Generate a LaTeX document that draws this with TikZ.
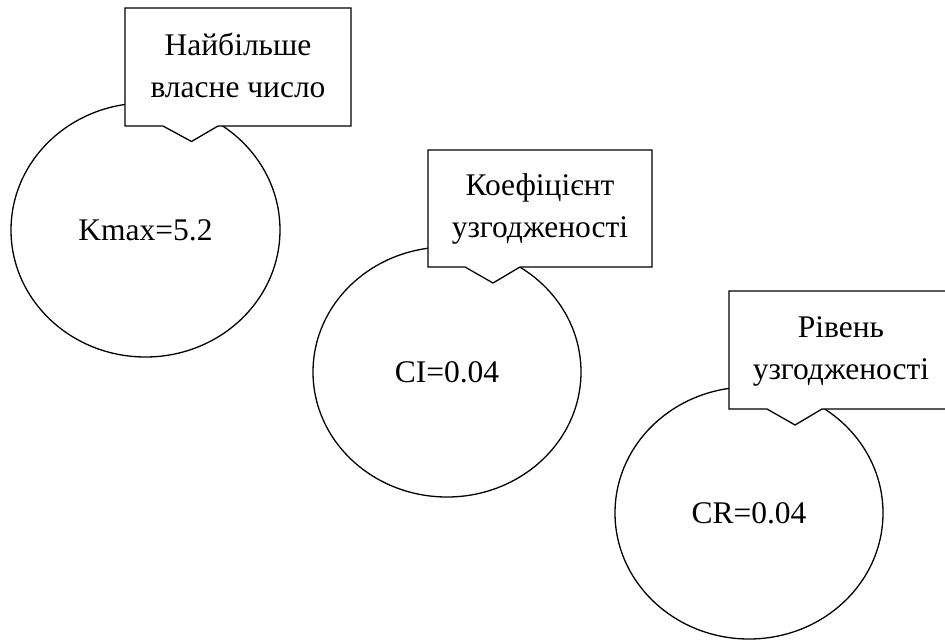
\documentclass[tikz,border=0pt]{standalone}
\usepackage{fontspec}
\setmainfont{Liberation Serif}
\usetikzlibrary{shapes.geometric}
\begin{document}
\begin{tikzpicture}[x=1pt,y=-1pt,
  bubble/.style={draw,line width=1.3pt,ellipse,inner sep=0pt,minimum width=268pt,minimum height=252pt,font=\fontsize{31.5}{42}\selectfont},
  calloutbox/.style={draw,line width=1.3pt,fill=white,line join=miter},
  callouttext/.style={align=center,inner sep=0pt,font=\fontsize{31.5}{42}\selectfont}]
\useasboundingbox (0,0) rectangle (945,642);
% circles
\node[bubble,minimum width=269pt,minimum height=254pt] (c1) at (145.5,230) {Kmax=5.2};
\node[bubble,minimum height=250pt] (c2) at (447,372) {CI=0.04};
\node[bubble] (c3) at (749,513) {CR=0.04};
% callouts
\draw[calloutbox] (125,8) -- (351,8) -- (351,126) -- (218,126) -- (191.5,141.5) -- (163,126) -- (125,126) -- cycle;
\node[callouttext] (t1) at (238,65.5) {Найбільше\\власне число};
\draw[calloutbox] (428,150) -- (652,150) -- (652,267) -- (520,267) -- (493,283) -- (465,267) -- (428,267) -- cycle;
\node[callouttext] (t2) at (540,209) {Коефіцієнт\\узгодженості};
\draw[calloutbox] (729,291) -- (953,291) -- (953,409) -- (822,409) -- (795,425) -- (767,409) -- (729,409) -- cycle;
\node[callouttext] (t3) at (841,351.5) {Рівень\\узгодженості};
\end{tikzpicture}
\end{document}
